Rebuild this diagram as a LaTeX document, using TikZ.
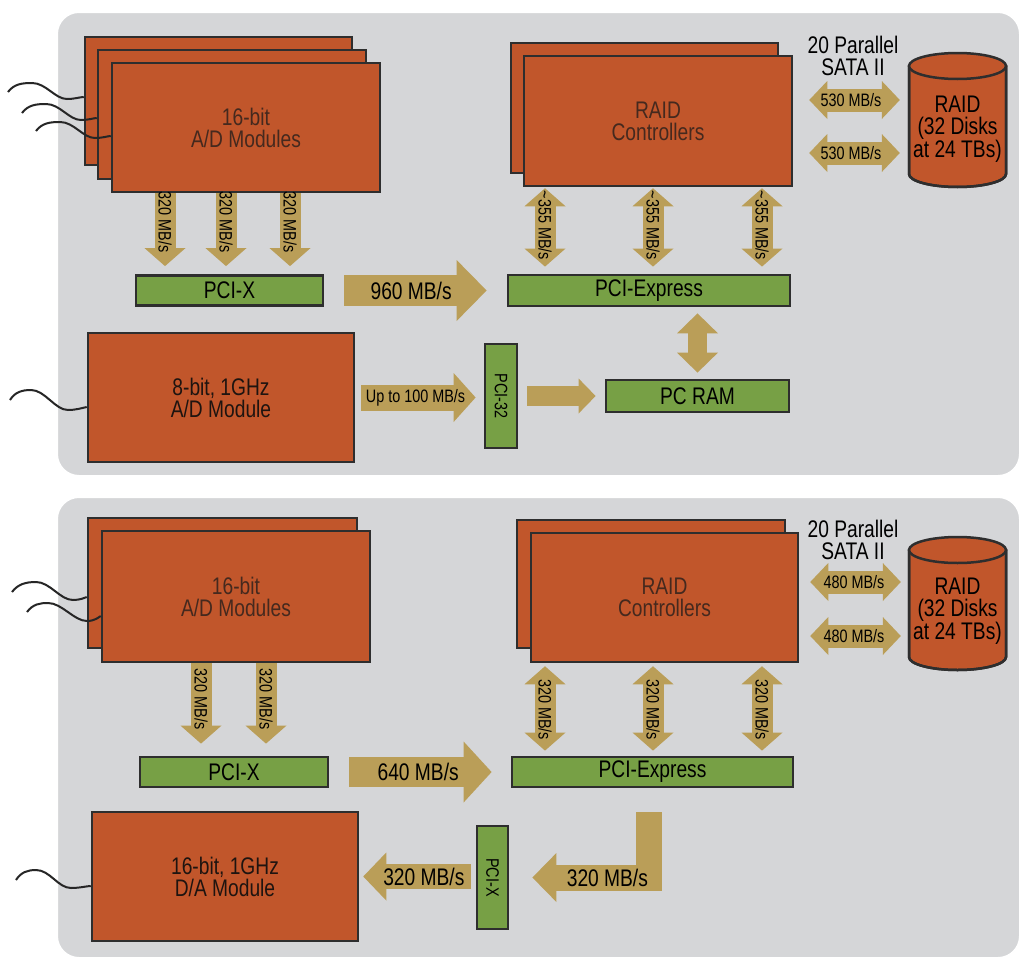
\documentclass[tikz,border=0pt]{standalone}
\usepackage{fontspec}
\setmainfont{Liberation Sans}[FakeStretch=0.8]
\usetikzlibrary{arrows.meta,calc}
\definecolor{org}{HTML}{C1562B}
\definecolor{grn}{HTML}{77A045}
\definecolor{arrc}{HTML}{BA9E58}
\definecolor{pnl}{HTML}{D5D6D8}
\definecolor{bdr}{HTML}{2E2E2E}
\definecolor{btxt}{HTML}{45291E}
\definecolor{dtxt}{HTML}{1E1410}
\newcommand{\fbig}{\fontsize{24}{22}\selectfont}
\newcommand{\fsm}{\fontsize{18}{18}\selectfont}
\begin{document}
\begin{tikzpicture}[x=1pt, y=-1pt,
  panel/.style={fill=pnl, draw=white, line width=2pt, rounded corners=22pt},
  obox/.style={draw=bdr, fill=org, line width=2.5pt, inner sep=0pt, align=center, font=\fbig, text=btxt},
  gbox/.style={draw=bdr, fill=grn, line width=2.8pt, inner sep=0pt, align=center, font=\fbig, text=black},
  wire/.style={draw=black!85, line width=2pt},
  fat/.style n args={3}{draw=arrc, line width=#1, line join=miter, -{Triangle[width=#2,length=#3,line width=0pt]}},
  dfat/.style n args={3}{draw=arrc, line width=#1, {Triangle[width=#2,length=#3,line width=0pt]}-{Triangle[width=#2,length=#3,line width=0pt]}},
  lab/.style={font=\fsm, text=black, inner sep=0pt},
  blab/.style={font=\fbig, text=black, inner sep=0pt},
  cyl/.style={draw=bdr, fill=org, line width=2.5pt},
]
\useasboundingbox (0,0) rectangle (1023,961);
\fill[white] (0,0) rectangle (1023,961);
\draw[panel] (57,12) rectangle (1020,476);
\draw[panel] (57,497) rectangle (1020,958);

% column / row helpers
\coordinate (c1) at (165,0); \coordinate (c2) at (226,0); \coordinate (c3) at (290,0);
\coordinate (d1) at (545,0); \coordinate (d2) at (653,0); \coordinate (d3) at (762,0);
\coordinate (e1) at (201,0); \coordinate (e2) at (266,0); \coordinate (cL) at (649,0);
\coordinate (r1) at (0,100); \coordinate (r2) at (0,153);
\coordinate (r3) at (0,582); \coordinate (r4) at (0,636);

% ---------- top panel ----------
\node[obox, minimum width=267pt, minimum height=128pt] (ad1b) at (218.5,101) {};
\node[obox, minimum width=268pt, minimum height=129pt] (ad1m) at (232,114.5) {};
\node[obox, minimum width=268pt, minimum height=129pt] (ad1f) at (246,127.5) {16-bit\\A/D Modules};
\node[gbox, minimum width=187pt, minimum height=30pt] (pcix1) at (229.5,290.5) {PCI-X};
\node[obox, minimum width=267pt, minimum height=130pt] (rc1b) at (644.5,108) {};
\node[obox, minimum width=268pt, minimum height=130pt] (rc1f) at (658,121) {RAID\\Controllers};
\node[gbox, minimum width=282pt, minimum height=31pt] (pcie1) at (649,290.5) {PCI-Express};
\node[blab, align=center] (sata1) at (853,56) {20 Parallel\\SATA II};
\fill[cyl] (909,66) -- (909,174) arc[start angle=180, end angle=0, x radius=48.5, y radius=13] -- (1006,66) -- cycle;
\draw[bdr, line width=2.5pt] (909,66) -- (909,174) arc[start angle=180, end angle=0, x radius=48.5, y radius=13] -- (1006,66);
\filldraw[cyl] (957.5,66) ellipse [x radius=48.5, y radius=13];
\node[inner sep=0pt, minimum width=97pt, minimum height=134pt] (raid1) at (957.5,120) {};
\node[blab, align=center] (raid1t) at (957.5,129) {RAID\\(32 Disks\\at 24 TBs)};
\node[obox, text=dtxt, minimum width=266pt, minimum height=129pt] (ad8) at (221,397.5) {8-bit, 1GHz\\A/D Module};
\node[gbox, minimum width=32pt, minimum height=104pt] (pci32) at (501,396) {\rotatebox{-90}{\fsm PCI-32}};
\node[gbox, minimum width=183pt, minimum height=32pt] (pcram) at (697.5,396) {PC RAM};

% wires top
\coordinate (w1) at (8,92); \coordinate (w2) at (22,113); \coordinate (w3) at (36,131); \coordinate (w4) at (10,400);
\draw[wire] (w1) .. controls (14,84) and (22,83) .. (32,83) .. controls (46,83) and (55,99) .. (67,99) .. controls (75,99) and (80,97) .. ([yshift=4pt]ad1b.west);
\draw[wire] (w2) .. controls (28,105) and (36,104) .. (46,104) .. controls (60,104) and (69,120) .. (81,120) .. controls (89,120) and (94,118) .. ([yshift=-3.5pt]ad1m.west);
\draw[wire] (w3) .. controls (42,123) and (50,122) .. (60,122) .. controls (74,122) and (83,138) .. (95,138) .. controls (103,138) and (108,136) .. ([yshift=-8.5pt]ad1f.west);
\draw[wire] (w4) .. controls (15,392) and (22,390) .. (31,390) .. controls (45,390) and (55,410) .. (68,410) .. controls (76,410) and (82,408) .. ([yshift=-9.5pt]ad8.west);

% arrows top
\foreach \c in {c1,c2,c3}
  \draw[fat={21pt}{41pt}{18pt}, shorten >=8pt] (ad1f.south -| \c) -- node[lab, rotate=-90, pos=0.36] {320 MB/s} (pcix1.north -| \c);
\draw[fat={31pt}{61pt}{30pt}, shorten <=20pt, shorten >=20pt] (pcix1.east) -- node[blab, pos=0.476] {960 MB/s} (pcie1.west);
\foreach \c in {d1,d2,d3}
  \draw[dfat={21pt}{41pt}{18pt}, shorten <=1pt, shorten >=7pt] (rc1f.south -| \c) -- node[lab, rotate=-90, pos=0.44] {\textasciitilde355 MB/s} (pcie1.north -| \c);
\foreach \r in {r1,r2}
  \draw[dfat={23pt}{38pt}{18pt}, shorten <=16pt, shorten >=9pt] (rc1f.east |- \r) -- node[lab, midway] {530 MB/s} (raid1.west |- \r);
\draw[dfat={19pt}{41pt}{20pt}, shorten <=6pt, shorten >=6pt] (pcram.north |- pcie1.south) -- (pcram.north);
\draw[fat={26pt}{49pt}{22pt}, shorten <=6pt, shorten >=8pt] (ad8.east) -- node[lab, pos=0.47] {Up to 100 MB/s} (pci32.west |- ad8.east);
\draw[fat={20pt}{35pt}{17pt}, shorten <=9pt, shorten >=9pt] (pci32.east |- pcram.west) -- (pcram.west);

% ---------- bottom panel ----------
\node[obox, minimum width=269pt, minimum height=130pt] (ad2b) at (222.5,583) {};
\node[obox, minimum width=268pt, minimum height=131pt] (ad2f) at (236,596.5) {16-bit\\A/D Modules};
\node[gbox, minimum width=188pt, minimum height=30pt] (pcix2) at (234,772) {PCI-X};
\node[obox, minimum width=268pt, minimum height=128pt] (rc2b) at (651,584) {};
\node[obox, minimum width=267pt, minimum height=129pt] (rc2f) at (664.5,597.5) {RAID\\Controllers};
\node[gbox, minimum width=281pt, minimum height=30pt] (pcie2) at (652.5,772) {PCI-Express};
\node[blab, align=center] (sata2) at (853,539.5) {20 Parallel\\SATA II};
\fill[cyl] (909,550) -- (909,657) arc[start angle=180, end angle=0, x radius=48.5, y radius=13] -- (1006,550) -- cycle;
\draw[bdr, line width=2.5pt] (909,550) -- (909,657) arc[start angle=180, end angle=0, x radius=48.5, y radius=13] -- (1006,550);
\filldraw[cyl] (957.5,550) ellipse [x radius=48.5, y radius=13];
\node[inner sep=0pt, minimum width=97pt, minimum height=133pt] (raid2) at (957.5,603.5) {};
\node[blab, align=center] (raid2t) at (957.5,611) {RAID\\(32 Disks\\at 24 TBs)};
\node[obox, text=dtxt, minimum width=266pt, minimum height=129pt] (da) at (225,876.5) {16-bit, 1GHz\\D/A Module};
\node[gbox, minimum width=31pt, minimum height=103pt] (pcix2v) at (492.5,877.5) {\rotatebox{-90}{\fsm PCI-X}};

% wires bottom
\coordinate (w5) at (12,592); \coordinate (w6) at (27,612); \coordinate (w7) at (16,880);
\draw[wire] (w5) .. controls (18,584) and (26,582) .. (36,582) .. controls (50,582) and (60,600) .. (73,600) .. controls (80,600) and (84,598) .. ([yshift=-14pt]ad2b.west);
\draw[wire] (w6) .. controls (33,604) and (40,603) .. (48,603) .. controls (62,603) and (74,621) .. (87,621) .. controls (95,621) and (99,617) .. ([yshift=-19.5pt]ad2f.west);
\draw[wire] (w7) .. controls (21,872) and (28,870) .. (36,870) .. controls (50,870) and (58,888) .. (71,888) .. controls (80,888) and (87,886) .. ([yshift=-9.5pt]da.west);

% arrows bottom
\foreach \c in {e1,e2}
  \draw[fat={21pt}{41pt}{18pt}, shorten >=12pt] (ad2f.south -| \c) -- node[lab, rotate=-90, pos=0.39] {320 MB/s} (pcix2.north -| \c);
\draw[fat={30pt}{61pt}{28pt}, shorten <=20pt, shorten >=19pt] (pcix2.east) -- node[blab, pos=0.49] {640 MB/s} (pcie2.west);
\foreach \c in {d1,d2,d3}
  \draw[dfat={21pt}{41pt}{18pt}, shorten <=3pt, shorten >=5pt] (rc2f.south -| \c) -- node[lab, rotate=-90, midway] {320 MB/s} (pcie2.north -| \c);
\foreach \r in {r3,r4}
  \draw[dfat={23pt}{38pt}{18pt}, shorten <=11pt, shorten >=8pt] (rc2f.east |- \r) -- node[lab, midway] {480 MB/s} (raid2.west |- \r);
\draw[fat={25pt}{48pt}{23pt}, shorten <=5pt, shorten >=4pt] (pcix2v.west |- da.east) -- node[blab, pos=0.445] {320 MB/s} (da.east);
\draw[fat={26pt}{49pt}{24pt}, shorten <=24pt, shorten >=23pt] (pcie2.south -| cL) |- node[blab, pos=0.649] {320 MB/s} (pcix2v.east);
\end{tikzpicture}
\end{document}
